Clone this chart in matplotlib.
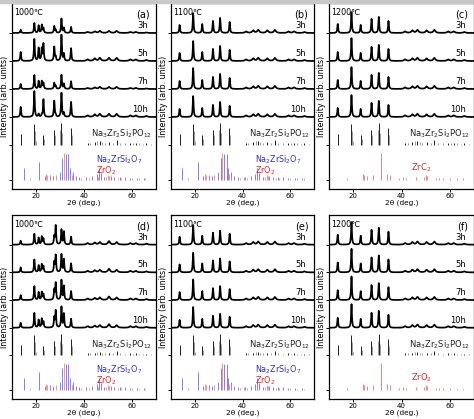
import numpy as np
import matplotlib
matplotlib.use('Agg')
import matplotlib.pyplot as plt
from matplotlib.patches import Rectangle

plt.rcParams['font.family'] = ['DejaVu Sans']
plt.rcParams['mathtext.fontset'] = 'dejavusans'

# ---------------- data ----------------
HOURS = ['3h', '5h', '7h', '10h']
TEMPS = ['1000℃', '1100℃', '1200℃', '1000℃', '1100℃', '1200℃']
PANEL_TAGS = ['(a)', '(b)', '(c)', '(d)', '(e)', '(f)']
X_TICKS = [20, 40, 60]

# peak positions (2θ, deg) used for the measured patterns
PEAK_POS = [13.6, 19.3, 21.1, 22.4, 23.1, 27.6, 28.2, 30.6, 31.6, 34.6,
            41.5, 44.5, 46.6, 50.4, 53.6, 59.3, 61.6, 66.0]

# peak heights per pattern (arb. units) for 3h, 5h, 7h, 10h
PANEL_A = [
    [3.3, 10, 7.5, 8, 5, 6.7, 3, 14.3, 5, 6, 1, 1.5, 2, 2, 2, 1, 1, 0.5],
    [9, 22, 13, 12, 17, 14, 4, 26, 7, 12.7, 1.5, 2.5, 3, 3, 3, 1.5, 1.5, 1],
    [5, 14, 8, 7.7, 6, 6, 3, 14, 5, 7.7, 1, 1.5, 2, 2, 2, 1, 1, 0.5],
    [10, 26, 3, 2, 17.7, 16, 2, 24, 4, 15, 1.5, 2.5, 3, 3, 3, 1.5, 1.5, 1],
]
PANEL_B = [
    [8, 20, 0, 0, 9, 12, 0, 15, 0, 11, 1.5, 2.5, 3, 2.5, 3, 1.5, 1.5, 1],
    [8, 20, 0, 0, 9, 12, 0, 15, 0, 11, 1.5, 2.5, 3, 2.5, 3, 1.5, 1.5, 1],
    [8, 21, 0, 0, 9, 12, 0, 15, 0, 11, 1.5, 2.5, 3, 2.5, 3, 1.5, 1.5, 1],
    [8, 21, 0, 0, 9, 12, 0, 15, 0, 11, 1.5, 2.5, 3, 2.5, 3, 1.5, 1.5, 1],
]
PANEL_C = [
    [9, 21, 0, 0, 8, 14, 0, 16, 0, 12, 1.5, 2.5, 3, 2.5, 3, 1.5, 1.5, 1],
    [9, 23, 0, 0, 8, 14, 0, 16, 0, 12, 1.5, 2.5, 3, 2.5, 3, 1.5, 1.5, 1],
    [9, 22, 0, 0, 8, 14, 0, 16, 0, 12, 1.5, 2.5, 3, 2.5, 3, 1.5, 1.5, 1],
    [9, 22, 0, 0, 8, 14, 0, 16, 0, 12, 1.5, 2.5, 3, 2.5, 3, 1.5, 1.5, 1],
]
PANEL_D = [
    [4, 11, 7, 8, 6, 8, 19, 15, 13, 8, 1.5, 2, 2.5, 3.5, 2.5, 1.5, 1.5, 1],
    [5, 13, 7, 8, 6, 10, 17, 18, 13, 9, 1.5, 2, 2.5, 3.5, 2.5, 1.5, 1.5, 1],
    [5, 14, 8, 8, 6, 10, 17, 20, 14, 9, 1.5, 2, 2.5, 3.5, 2.5, 1.5, 1.5, 1],
    [5, 15, 8, 9, 6, 10, 17, 21, 14, 9, 1.5, 2, 2.5, 3.5, 2.5, 1.5, 1.5, 1],
]
PANEL_E = [
    [8, 20, 0, 0, 9, 12, 0, 14, 0, 11, 1.5, 2.5, 3, 2.5, 3, 1.5, 1.5, 1],
    [8, 20, 0, 0, 9, 12, 0, 14, 0, 11, 1.5, 2.5, 3, 2.5, 3, 1.5, 1.5, 1],
    [8, 21, 0, 0, 9, 12, 0, 14, 0, 11, 1.5, 2.5, 3, 2.5, 3, 1.5, 1.5, 1],
    [8, 21, 0, 0, 9, 12, 0, 14, 0, 11, 1.5, 2.5, 3, 2.5, 3, 1.5, 1.5, 1],
]
PANEL_F = [
    [10, 23, 0, 0, 9, 15, 0, 17, 0, 13, 1.5, 2.5, 3, 2.5, 3, 1.5, 1.5, 1],
    [10, 24, 0, 0, 9, 15, 0, 17, 0, 13, 1.5, 2.5, 3, 2.5, 3, 1.5, 1.5, 1],
    [10, 24, 0, 0, 9, 15, 0, 17, 0, 13, 1.5, 2.5, 3, 2.5, 3, 1.5, 1.5, 1],
    [10, 24, 0, 0, 9, 15, 0, 17, 0, 13, 1.5, 2.5, 3, 2.5, 3, 1.5, 1.5, 1],
]

# reference stick patterns
NZSP_BLACK_POS = [13.6, 19.3, 23.1, 27.5, 30.5, 34.5, 41.5, 44.5, 46.6, 50.4, 53.6, 59.3, 61.6, 66.0]
NZSP_BLACK_H = [10.7, 20.7, 10, 15, 21.7, 16.7, 2, 3, 4, 3, 5, 2, 2, 1.5]
NZSP_GRAY_POS = [13.9, 19.7, 20.0, 23.5, 27.9, 30.2, 31.0, 34.9, 42.5, 45.5, 47.5,
                 48.6, 52.0, 55.0, 57.0, 60.5, 63.0, 64.5, 68.0]
NZSP_GRAY_H = [6, 14, 4, 6, 10, 15, 12, 10, 2, 4, 3, 2, 2, 2, 1.5, 1.5, 1.5, 1, 1]

NZS_POS = [14.8, 21.2, 23.6, 25.8, 27.0, 29.8, 30.9, 32.4, 33.4, 34.1, 35.3, 36.6,
           38.0, 41.0, 43.5, 45.4, 46.2, 47.0, 48.5, 51.2, 52.6, 55.0, 57.2, 59.0, 62.0, 65.0]
NZS_H = [12, 18, 4, 5, 4, 8, 22, 26, 26, 12, 8, 4, 3, 3, 4, 6, 12, 7, 3, 4, 3, 3, 3, 2, 2, 2]
ZRO2_POS = [17.3, 24.1, 24.5, 25.8, 28.2, 31.5, 34.2, 35.2, 38.8, 40.8, 42.0, 46.0,
            49.3, 50.1, 50.6, 54.1, 55.5, 57.2, 60.0, 62.9, 65.6]
ZRO2_H = [2, 6, 5, 4, 5, 27, 6, 5, 2, 3, 2, 3, 3, 5, 4, 2, 2, 2, 2, 1.5, 1.5]

# ---------------- layout ----------------
W, H = 474, 419
fig = plt.figure(figsize=(W / 100, H / 100), dpi=100)
fig.patches.append(Rectangle((0, 1 - 3 / H), 1, 3 / H, transform=fig.transFigure,
                             color='#c8c8c8', zorder=0))

col_left = [12, 171, 329]
col_w = [144, 143, 145]
row_top = [3, 215]
row_h = [186, 184]

BASES = [156, 128, 100, 72]   # baselines for 3h..10h
REF1 = 44
REF2 = 9
YMAX = 186

x = np.arange(10, 70.001, 0.04)


def profile(heights):
    y = np.zeros_like(x)
    for p, h in zip(PEAK_POS, heights):
        w = 0.2 if p < 40 else 0.5
        y += h / (1 + ((x - p) / w) ** 2)
    return y


panels = [PANEL_A, PANEL_B, PANEL_C, PANEL_D, PANEL_E, PANEL_F]

for i in range(6):
    r, c = divmod(i, 3)
    left = col_left[c] / W
    bottom = 1 - (row_top[r] + row_h[r]) / H
    ax = fig.add_axes([left, bottom, col_w[c] / W, row_h[r] / H])
    ax.set_xlim(10, 70)
    ax.set_ylim(0, YMAX)

    for k, hrs in enumerate(panels[i]):
        ax.plot(x, BASES[k] + profile(hrs), color='black', lw=1.25)
        ax.text(66.8, BASES[k] + 7.5, HOURS[k], ha='right', va='center', fontsize=6)

    # NZSP reference sticks
    ax.vlines(NZSP_GRAY_POS, REF1, REF1 + np.array(NZSP_GRAY_H), color='#8c8c8c', lw=0.6)
    ax.vlines(NZSP_BLACK_POS, REF1, REF1 + np.array(NZSP_BLACK_H), color='#202020', lw=0.7)
    ax.text(68.5, REF1 + 11, r'Na$_3$Zr$_2$Si$_2$PO$_{12}$', ha='right', va='center',
            fontsize=6, color='#222222')

    if c < 2:
        ax.vlines(NZS_POS, REF2, REF2 + np.array(NZS_H), color='#6a6aff', lw=0.6)
        ax.vlines(ZRO2_POS, REF2, REF2 + np.array(ZRO2_H), color='#ff7070', lw=0.6, alpha=0.9)
        ax.text(45.2, 29.5, r'Na$_2$ZrSi$_2$O$_7$', ha='left', va='center',
                fontsize=5.8, color='#2a2ad8')
        ax.text(45.2, 18, r'ZrO$_2$', ha='left', va='center', fontsize=5.8, color='#e52222')
    else:
        ax.vlines(ZRO2_POS, REF2, REF2 + np.array(ZRO2_H), color='#f07070', lw=0.6)
        label = r'ZrC$_2$' if r == 0 else r'ZrO$_2$'
        ax.text(48.3, 21, label, ha='center', va='center', fontsize=6, color='#e52222')

    ax.text(0.012, 0.975, TEMPS[i], transform=ax.transAxes, ha='left', va='top', fontsize=5.8)
    ax.text(0.96, 0.965, PANEL_TAGS[i], transform=ax.transAxes, ha='right', va='top', fontsize=7)

    ax.set_xticks(X_TICKS)
    ax.set_xticklabels([str(t) for t in X_TICKS], fontsize=5)
    ax.set_yticks([REF2, REF1] + BASES[::-1])
    ax.set_yticklabels([])
    ax.tick_params(axis='both', direction='out', length=2, width=0.7, pad=0.8)
    ax.set_xlabel('2θ (deg.)', fontsize=5.3, va='top')
    ax.xaxis.set_label_coords(0.5, -10.5 / row_h[r])
    ax.set_ylabel('Intensity (arb. units)', fontsize=5.8)
    ax.yaxis.set_label_coords(-3.0 / col_w[c], 0.5)
    for s in ax.spines.values():
        s.set_linewidth(0.9)

fig.savefig('out.png', dpi=100)
